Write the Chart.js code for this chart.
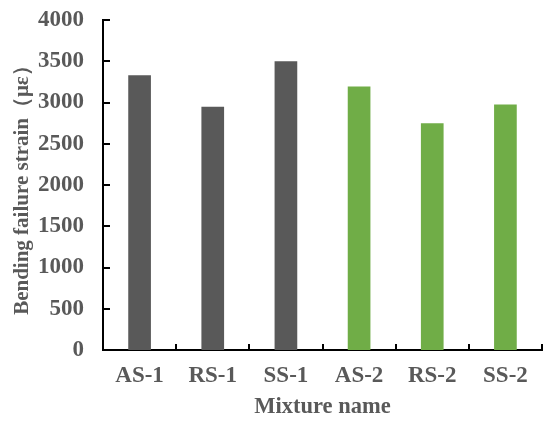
<!DOCTYPE html>
<html>
<head>
<meta charset="utf-8">
<script src="https://cdn.jsdelivr.net/npm/chart.js@4"></script>
<style>
  html, body { margin: 0; padding: 0; background: #fff; }
  #wrap { width: 550px; height: 427px; }
</style>
</head>
<body>
<div id="wrap"><canvas id="chart" width="550" height="427"></canvas></div>
<script>
const mixtures = ['AS-1', 'RS-1', 'SS-1', 'AS-2', 'RS-2', 'SS-2'];
const strainValues = [3330, 2950, 3500, 3195, 2750, 2975];
const barColors = ['#595959', '#595959', '#595959', '#70AD47', '#70AD47', '#70AD47'];
const yTicks = [0, 500, 1000, 1500, 2000, 2500, 3000, 3500, 4000];

const textGray = '#595959';
const serif = "'Liberation Serif', 'Times New Roman', serif";

// short tick marks drawn inward, like the original
const innerTicks = {
  id: 'innerTicks',
  afterDraw(chart) {
    const { ctx, chartArea } = chart;
    const x = chart.scales.x, y = chart.scales.y;
    ctx.save();
    ctx.strokeStyle = '#000';
    ctx.lineWidth = 2;
    ctx.beginPath();
    yTicks.forEach(v => {
      const py = Math.round(y.getPixelForValue(v));
      ctx.moveTo(chartArea.left, py);
      ctx.lineTo(chartArea.left + 7, py);
    });
    for (let i = 0; i <= mixtures.length; i++) {
      const px = Math.round(x.getPixelForValue(i - 0.5));
      ctx.moveTo(px, chartArea.bottom);
      ctx.lineTo(px, chartArea.bottom - 6);
    }
    ctx.stroke();
    ctx.restore();
  }
};

new Chart(document.getElementById('chart'), {
  type: 'bar',
  data: {
    labels: mixtures,
    datasets: [{
      data: strainValues,
      backgroundColor: barColors,
      categoryPercentage: 1,
      barPercentage: 0.31
    }]
  },
  options: {
    responsive: false,
    animation: false,
    layout: { padding: { top: 20, right: 8, left: 0, bottom: 0 } },
    plugins: {
      legend: { display: false },
      tooltip: { enabled: false }
    },
    scales: {
      x: {
        grid: { display: false, drawTicks: false },
        border: { display: true, color: '#000', width: 2 },
        ticks: {
          color: textGray,
          padding: 12,
          font: { family: serif, size: 23, weight: 'bold' }
        },
        title: {
          display: true,
          text: 'Mixture name',
          color: textGray,
          padding: { top: 0, bottom: 6 },
          font: { family: serif, size: 22.5, weight: 'bold' }
        },
        afterFit(scale) {
          scale.height = 77;
          scale.paddingLeft = 0;
          scale.paddingRight = 0;
        }
      },
      y: {
        min: 0,
        max: 4000,
        afterBuildTicks(scale) { scale.ticks = yTicks.map(v => ({ value: v })); },
        grid: { display: false, drawTicks: false },
        border: { display: true, color: '#000', width: 2 },
        ticks: {
          color: textGray,
          padding: 19,
          callback: v => String(v),
          font: { family: serif, size: 23, weight: 'bold' }
        },
        title: {
          display: true,
          text: 'Bending failure strain（με）',
          color: textGray,
          padding: { top: 10, bottom: 0 },
          font: { family: serif, size: 21, weight: 'bold' }
        },
        afterFit(scale) {
          scale.width = 103;
          scale.paddingTop = 0;
          scale.paddingBottom = 0;
        }
      }
    }
  },
  plugins: [innerTicks]
});
</script>
</body>
</html>
